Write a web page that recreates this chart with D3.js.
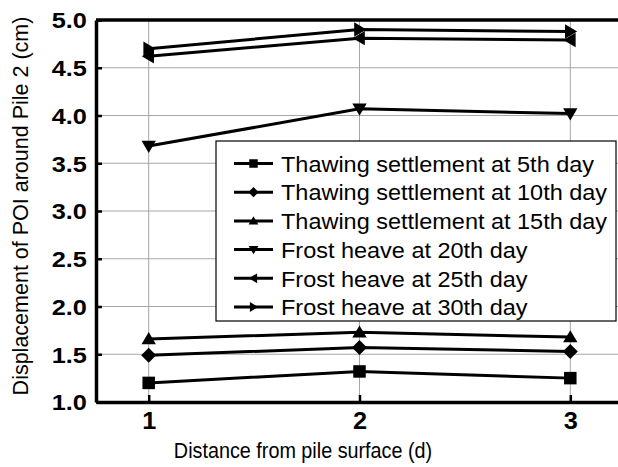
<!DOCTYPE html>
<html>
<head>
<meta charset="utf-8">
<script src="https://cdn.jsdelivr.net/npm/d3@7"></script>
<style>
  body { margin: 0; background: #fff; }
  svg { display: block; font-family: Arial, "Liberation Sans", sans-serif; }
</style>
</head>
<body>
<div id="chart"></div>
<script>
// data
const distances = [1, 2, 3];
const seriesNames = [
  "Thawing settlement at 5th day",
  "Thawing settlement at 10th day",
  "Thawing settlement at 15th day",
  "Frost heave at 20th day",
  "Frost heave at 25th day",
  "Frost heave at 30th day"
];
const markerTypes = ["square", "diamond", "up", "down", "left", "right"];
const thaw5 = [1.20, 1.32, 1.25];
const thaw10 = [1.49, 1.57, 1.53];
const thaw15 = [1.66, 1.73, 1.68];
const frost20 = [3.68, 4.07, 4.02];
const frost25 = [4.62, 4.81, 4.79];
const frost30 = [4.70, 4.90, 4.88];
const yTicks = [1.0, 1.5, 2.0, 2.5, 3.0, 3.5, 4.0, 4.5, 5.0];
const xTicks = [1, 2, 3];

const allSeries = [thaw5, thaw10, thaw15, frost20, frost25, frost30];

// size and margins
const W = 618, H = 467;
const margin = ({top: 20, right: -5, bottom: 65, left: 96});
const width = W - margin.left - margin.right;
const height = H - margin.top - margin.bottom;

const svg = d3.select("#chart")
  .append("svg")
  .attr("width", W)
  .attr("height", H);

const g = svg.append("g")
  .attr("transform", "translate(" + margin.left + "," + margin.top + ")");

// scales
const xScale = d3.scaleLinear().domain([0.75, 3.25]).range([0, width]);
const yScale = d3.scaleLinear().domain([1.0, 5.0]).range([height, 0]);

// grid lines
g.append("g")
  .selectAll("line")
  .data(yTicks)
  .join("line")
  .attr("x1", 0).attr("x2", width)
  .attr("y1", d => yScale(d)).attr("y2", d => yScale(d))
  .attr("stroke", "#a6a6a6")
  .attr("stroke-width", 1);

g.append("g")
  .selectAll("line")
  .data(xTicks)
  .join("line")
  .attr("x1", d => xScale(d)).attr("x2", d => xScale(d))
  .attr("y1", 0).attr("y2", height)
  .attr("stroke", "#a6a6a6")
  .attr("stroke-width", 1);

// axes with short inward ticks
const xAxis = d3.axisBottom(xScale).tickValues(xTicks).tickFormat(d3.format("d"))
  .tickSizeInner(-7).tickSizeOuter(0).tickPadding(11);
const yAxis = d3.axisLeft(yScale).tickValues(yTicks).tickFormat(d3.format(".1f"))
  .tickSizeInner(-6).tickSizeOuter(0).tickPadding(8);

g.append("g")
  .attr("class", "x-axis")
  .attr("transform", "translate(0," + height + ")")
  .call(xAxis)
  .call(a => a.select(".domain").attr("stroke-width", 3.5))
  .call(a => a.selectAll(".tick line").attr("stroke-width", 2.5))
  .call(a => a.selectAll(".tick text")
    .attr("font-size", 23)
    .attr("font-weight", "bold")
    .attr("fill", "#000")
    .attr("transform", "scale(1.1,1)"));

g.append("g")
  .attr("class", "y-axis")
  .call(yAxis)
  .call(a => a.select(".domain").attr("stroke-width", 3.5))
  .call(a => a.selectAll(".tick line").attr("stroke-width", 2.5))
  .call(a => a.selectAll(".tick text")
    .attr("font-size", 22)
    .attr("font-weight", "bold")
    .attr("fill", "#000")
    .attr("dy", "0.36em")
    .attr("transform", "scale(1.15,1)"));

// top frame
g.append("line")
  .attr("x1", 0).attr("x2", width)
  .attr("y1", 0).attr("y2", 0)
  .attr("stroke", "#000")
  .attr("stroke-width", 3.5);

// axis titles
svg.append("text")
  .attr("transform", "translate(303,458) scale(0.9,1)")
  .attr("text-anchor", "middle")
  .attr("font-size", 22)
  .text("Distance from pile surface (d)");

svg.append("text")
  .attr("transform", "translate(28,206) rotate(-90)")
  .attr("text-anchor", "middle")
  .attr("font-size", 21.5)
  .text("Displacement of POI around Pile 2 (cm)");

// marker shapes
function markerPath(type, s) {
  const p = d3.path();
  const h = s / 2;
  if (type === "square") {
    p.rect(-h, -h, s, s);
  } else if (type === "diamond") {
    p.moveTo(0, -h * 1.2); p.lineTo(h * 1.2, 0); p.lineTo(0, h * 1.2); p.lineTo(-h * 1.2, 0); p.closePath();
  } else if (type === "up") {
    p.moveTo(0, -h * 1.1); p.lineTo(h * 1.15, h * 0.85); p.lineTo(-h * 1.15, h * 0.85); p.closePath();
  } else if (type === "down") {
    p.moveTo(0, h * 1.1); p.lineTo(h * 1.15, -h * 0.85); p.lineTo(-h * 1.15, -h * 0.85); p.closePath();
  } else if (type === "left") {
    p.moveTo(-h * 1.1, 0); p.lineTo(h * 0.85, -h * 1.15); p.lineTo(h * 0.85, h * 1.15); p.closePath();
  } else {
    p.moveTo(h * 1.1, 0); p.lineTo(-h * 0.85, -h * 1.15); p.lineTo(-h * 0.85, h * 1.15); p.closePath();
  }
  return p.toString();
}

// lines and markers
const line = d3.line()
  .x((d, i) => xScale(distances[i]))
  .y(d => yScale(d));

allSeries.forEach((vals, k) => {
  g.append("path")
    .datum(vals)
    .attr("fill", "none")
    .attr("stroke", "#000")
    .attr("stroke-width", 3)
    .attr("d", line);

  g.append("g")
    .selectAll("path")
    .data(vals)
    .join("path")
    .attr("transform", (d, i) => `translate(${xScale(distances[i])},${yScale(d)})`)
    .attr("d", markerPath(markerTypes[k], 12.5))
    .attr("fill", "#000");
});

// legend
const legend = svg.append("g").attr("transform", "translate(216,141)");

legend.append("rect")
  .attr("width", 400)
  .attr("height", 180)
  .attr("fill", "#fff")
  .attr("stroke", "#000")
  .attr("stroke-width", 1.2);

const rows = legend.selectAll(".row")
  .data(seriesNames)
  .join("g")
  .attr("class", "row")
  .attr("transform", (d, i) => `translate(0,${22.5 + i * 28.7})`);

rows.append("line")
  .attr("x1", 18).attr("x2", 57)
  .attr("stroke", "#000")
  .attr("stroke-width", 3);

rows.append("path")
  .attr("transform", "translate(37.5,0)")
  .attr("d", (d, i) => markerPath(markerTypes[i], 8.5))
  .attr("fill", "#000");

rows.append("text")
  .attr("transform", "translate(65,0) scale(1.03,1)")
  .attr("dy", "0.36em")
  .attr("font-size", 22.8)
  .text(d => d);
</script>
</body>
</html>
